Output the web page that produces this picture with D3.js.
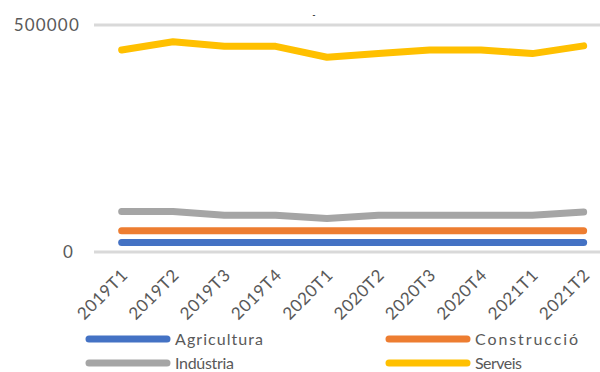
<!DOCTYPE html>
<html><head><meta charset="utf-8">
<script src="https://cdn.jsdelivr.net/npm/d3@7"></script>
<style>body{margin:0;background:#fff}svg{display:block}</style>
</head><body>
<svg id="c" width="600" height="372"></svg>
<script>
const categories = ["2019T1","2019T2","2019T3","2019T4","2020T1","2020T2","2020T3","2020T4","2021T1","2021T2"];
const agricultura = [21000,21000,21000,21000,21000,21000,21000,21000,21000,21000];
const construccio = [47000,47000,47000,47000,47000,47000,47000,47000,47000,47000];
const industria   = [89000,89000,81000,81000,74000,81000,81000,81000,81000,88000];
const serveis     = [445000,463000,453000,453000,429000,437000,445000,445000,437000,454000];
const yTicks = [0,500000];
const seriesNames = ["Agricultura","Construcció","Indústria","Serveis"];
const seriesColors = ["#4472C4","#ED7D31","#A5A5A5","#FFC000"];
const seriesData = [agricultura, construccio, industria, serveis];

const svg = d3.select("#c");
const font = "Lato, 'Liberation Sans', sans-serif";
const x = d3.scaleBand().domain(categories).range([96, 609.3]);
const y = d3.scaleLinear().domain([0,500000]).range([252,25]);
const cx = d => x(d) + x.bandwidth()/2;

// gridlines
svg.append("g").selectAll("line").data(yTicks).join("line")
  .attr("x1",94).attr("x2",600).attr("y1",d=>y(d)).attr("y2",d=>y(d))
  .attr("stroke","#D9D9D9").attr("stroke-width",3);

// y labels
svg.append("g").selectAll("text").data(yTicks).join("text")
  .attr("x",d=>d===0?74:80).attr("y",d=>y(d)).attr("dy","0.36em")
  .attr("text-anchor","end").attr("fill","#595959")
  .style("font-family",font).style("font-size","17px").style("letter-spacing","1.2px")
  .text(d=>d);

// x labels
svg.append("g").selectAll("text").data(categories).join("text")
  .attr("transform",d=>`translate(${cx(d)+3},${272}) rotate(-45)`)
  .attr("text-anchor","end").attr("dy","0.35em").attr("fill","#595959")
  .style("font-family",font).style("font-size","17px").style("letter-spacing","0.6px")
  .text(d=>d);

// lines
const line = d3.line().x((v,i)=>cx(categories[i])).y(v=>y(v));
svg.append("g").selectAll("path").data(seriesData).join("path")
  .attr("d",d=>line(d)).attr("fill","none")
  .attr("stroke",(d,i)=>seriesColors[i]).attr("stroke-width",7)
  .attr("stroke-linecap","round").attr("stroke-linejoin","round");

// small title mark
svg.append("text").attr("x",314).attr("y",18).attr("text-anchor","middle")
  .style("font-family",font).style("font-size","9px").attr("fill","#000").text("-");

// legend
const legPos = [[89,339],[389,339],[89,363],[389,363]];
const legLens = [88,103,59,47];
const lg = svg.append("g").selectAll("g").data(seriesNames).join("g")
  .attr("transform",(d,i)=>`translate(${legPos[i][0]},${legPos[i][1]})`);
lg.append("line").attr("x1",0).attr("x2",78).attr("y1",0).attr("y2",0)
  .attr("stroke",(d,i)=>seriesColors[i]).attr("stroke-width",7).attr("stroke-linecap","round");
lg.append("text").attr("x",86).attr("y",0).attr("dy","0.36em").attr("fill","#595959")
  .attr("textLength",(d,i)=>legLens[i]).attr("lengthAdjust","spacing")
  .style("font-family",font).style("font-size","16px").text(d=>d);
</script>
</body></html>
